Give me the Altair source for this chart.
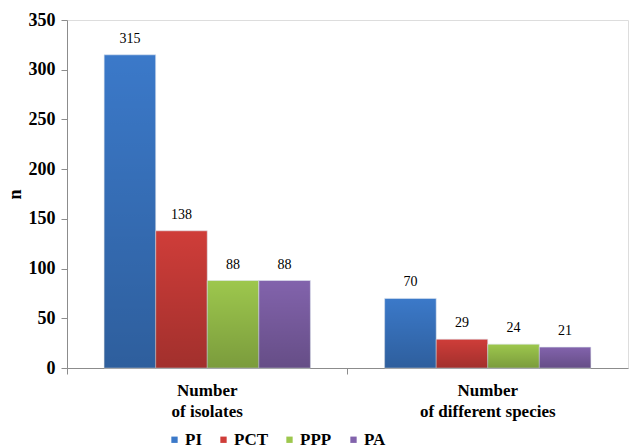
import altair as alt
import pandas as pd

categories = ["Number\nof isolates", "Number\nof different species"]
series = ["PI", "PCT", "PPP", "PA"]
values = {
    "PI": [315, 70],
    "PCT": [138, 29],
    "PPP": [88, 24],
    "PA": [88, 21],
}
colors = ["#3B79C9", "#CF3D39", "#9DC74D", "#8263AC"]

rows = []
for s in series:
    for c, v in zip(categories, values[s]):
        rows.append({"category": c, "series": s, "value": v})
df = pd.DataFrame(rows)

FONT = "Liberation Serif"

x_enc = alt.X(
    "category:N",
    sort=categories,
    title=None,
    scale=alt.Scale(paddingInner=0, paddingOuter=0),
    axis=alt.Axis(
        labelAngle=0,
        labelExpr="split(datum.label, '\\n')",
        labelFontSize=17,
        labelLineHeight=21,
        labelPadding=8,
        bandPosition=0,
    ),
)
xoff_enc = alt.XOffset(
    "series:N", sort=series, scale=alt.Scale(paddingInner=0, paddingOuter=0.72)
)
y_enc = alt.Y(
    "value:Q",
    title="n",
    scale=alt.Scale(domain=[0, 350]),
    axis=alt.Axis(
        values=[0, 50, 100, 150, 200, 250, 300, 350],
        grid=False,
        labelFontSize=18,
        labelPadding=6,
        titleFontSize=18,
        titlePadding=4,
    ),
)

base = alt.Chart(df)

bars = base.mark_bar(stroke="#dfe6f0", strokeWidth=0.6).encode(
    x=x_enc,
    xOffset=xoff_enc,
    y=y_enc,
    color=alt.Color(
        "series:N",
        sort=series,
        scale=alt.Scale(domain=series, range=colors),
        legend=alt.Legend(
            title=None,
            orient="none",
            direction="horizontal",
            legendX=99,
            legendY=411,
            symbolType="square",
            symbolSize=40,
            symbolStrokeWidth=0,
            labelFontSize=17,
            labelOffset=2,
            columnPadding=13,
        ),
    ),
)

# darkening overlay: the fill grows slightly darker toward the baseline
shade = base.mark_bar(
    fill=alt.Gradient(
        gradient="linear",
        x1=0, y1=0, x2=0, y2=1,
        stops=[
            alt.GradientStop(offset=0, color="rgba(0,0,0,0)"),
            alt.GradientStop(offset=1, color="rgba(0,0,0,0.22)"),
        ],
    )
).encode(x=x_enc, xOffset=xoff_enc, y=y_enc)

labels = base.mark_text(
    dy=-9, font=FONT, fontSize=14, color="black", baseline="bottom"
).encode(x=x_enc, xOffset=xoff_enc, y=y_enc, text="value:Q")

chart = (
    alt.layer(bars, shade, labels)
    .properties(
        width=561,
        height=348,
        autosize=alt.AutoSizeParams(type="none"),
        padding={"left": 67, "top": 20, "right": 2, "bottom": 80},
    )
    .configure_view(stroke=None)
    .configure(background="white", font=FONT)
    .configure_axis(
        labelFont=FONT,
        labelFontWeight="bold",
        labelColor="black",
        titleFont=FONT,
        titleFontWeight="bold",
        titleColor="black",
        domainColor="#8c8c8c",
        tickColor="#8c8c8c",
        tickSize=6,
    )
    .configure_legend(
        labelFont=FONT,
        labelFontWeight="bold",
        labelColor="black",
    )
)

chart.save("out.html", embed_options={"renderer": "svg", "actions": False})
